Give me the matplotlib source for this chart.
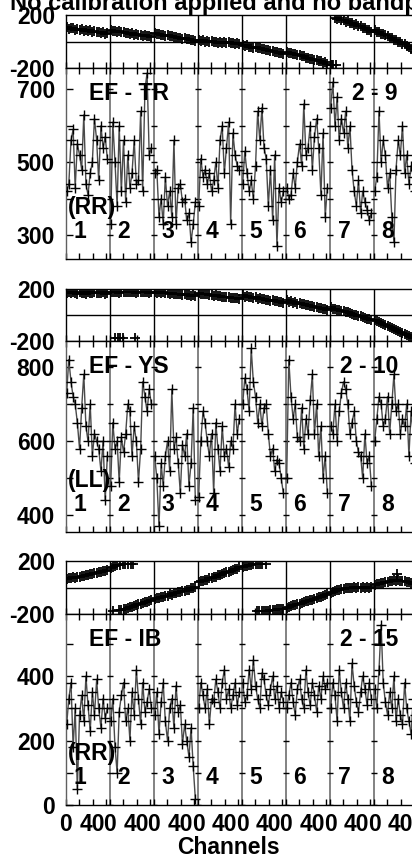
import numpy as np
import matplotlib
matplotlib.use("Agg")
import matplotlib.pyplot as plt

plt.rcParams['font.family'] = ['Liberation Sans', 'DejaVu Sans']
plt.rcParams['font.weight'] = 'bold'

TITLE = "No calibration applied and no bandpass applied"
N_SB = 8
SB_WIDTH = 66
chan = [1, 4.2, 7.5, 10.7, 13.8, 17, 20.3, 23.5, 26.7, 29.9,
        33, 36.3, 39.5, 42.7, 46, 49, 52.4, 55.6, 58.8, 62]

baselines = ["EF - TR", "EF - YS", "EF - IB"]
bl_numbers = ["2 - 9", "2 - 10", "2 - 15"]
pols = ["(RR)", "(LL)", "(RR)"]
sb_labels = ["1", "2", "3", "4", "5", "6", "7", "8"]
x_tick_labels = ["0", "", "40", ""]

# ---------------- phases (deg), 20 per subband ----------------
phase1 = [
    [110, 96, 104, 100, 90, 98, 88, 92, 82, 86, 78, 84, 72, 80, 68, 74, 64, 70, 58, 62],
    [86, 78, 82, 72, 78, 68, 72, 62, 66, 58, 62, 52, 56, 48, 50, 42, 46, 38, 40, 32],
    [62, 54, 58, 48, 52, 44, 46, 38, 40, 32, 36, 26, 30, 22, 24, 16, 18, 10, 14, 6],
    [10, 2, 8, 0, 6, -2, 4, -4, 0, -8, -2, -10, -4, -12, -6, -14, -10, -18, -12, -20],
    [-26, -34, -30, -40, -38, -46, -44, -52, -52, -60, -58, -66, -66, -72, -72, -80, -78, -86, -86, -92],
    [-76, -86, -84, -94, -92, -104, -102, -112, -112, -122, -122, -132, -130, -140, -140, -150, -150, -160, -158, -168],
    [-174, -179, 178, 170, 174, 160, 164, 150, 152, 138, 142, 126, 130, 114, 118, 102, 104, 88, 90, 74],
    [84, 74, 72, 60, 58, 46, 44, 30, 28, 14, 12, -2, -4, -18, -22, -36, -40, -56, -60, -76],
]
phase1_extra_x = [6 * SB_WIDTH + 3, 6 * SB_WIDTH + 9]
phase1_extra_y = [-178, -176]

phase2 = [
    [168, 174, 166, 176, 170, 164, 174, 168, 172, 162, 176, 168, 170, 174, 166, 172, 168, 176, 164, 170],
    [174, 180, 176, 178, 172, 180, 176, 179, 174, 178, 176, 180, 172, 178, 176, 179, 174, 177, 172, 176],
    [180, 172, 176, 170, 174, 166, 170, 164, 166, 160, 164, 158, 160, 154, 158, 152, 154, 148, 152, 146],
    [168, 160, 164, 158, 160, 152, 156, 148, 150, 144, 148, 140, 142, 136, 140, 132, 134, 128, 130, 124],
    [150, 142, 146, 138, 140, 132, 136, 126, 130, 122, 124, 116, 118, 110, 114, 106, 108, 100, 102, 96],
    [112, 102, 106, 96, 98, 88, 92, 82, 84, 74, 78, 68, 70, 62, 62, 54, 56, 46, 48, 40],
    [58, 50, 50, 42, 40, 32, 30, 22, 20, 12, 10, 2, 0, -8, -10, -18, -20, -28, -30, -38],
    [-38, -46, -52, -60, -66, -76, -82, -90, -98, -106, -112, -122, -128, -138, -144, -152, -160, -168, -174, -179],
]
phase2_extra_x = [SB_WIDTH + 8, SB_WIDTH + 12, SB_WIDTH + 15, SB_WIDTH + 19, SB_WIDTH + 38]
phase2_extra_y = [-180, -178, -180, -179, -180]

phase3 = [
    [62, 70, 68, 76, 74, 82, 80, 88, 88, 96, 94, 102, 102, 110, 108, 116, 116, 122, 122, 130],
    [150, 158, 164, 170, -172, -168, -166, -160, -156, -150, -146, -140, -134, -128, -124, -118, -112, -106, -100, -94],
    [-88, -80, -80, -70, -72, -62, -62, -52, -54, -44, -44, -34, -36, -26, -26, -16, -16, -6, -6, 4],
    [38, 48, 48, 58, 60, 70, 70, 82, 82, 92, 94, 104, 106, 116, 118, 128, 130, 140, 142, 152],
    [154, 160, 164, 168, 170, 174, 176, 178, 179, 180, -176, -174, -174, -170, -170, -168, -166, -166, -164, -162],
    [-152, -144, -142, -134, -132, -124, -122, -114, -112, -104, -102, -94, -92, -84, -82, -74, -70, -62, -60, -50],
    [-38, -32, -28, -22, -18, -12, -10, -6, -4, 0, -2, 2, 0, 4, -2, 2, 0, 4, 0, 2],
    [22, 28, 26, 34, 34, 42, 42, 50, 48, 54, 52, 56, 50, 52, 46, 44, 38, 34, 28, 24],
]
phase3_extra_x = [SB_WIDTH + 15, SB_WIDTH + 19, SB_WIDTH + 23, SB_WIDTH + 27, SB_WIDTH + 31,
                  SB_WIDTH + 35, SB_WIDTH + 5,
                  4 * SB_WIDTH + 22, 4 * SB_WIDTH + 26, 4 * SB_WIDTH + 30, 4 * SB_WIDTH + 36,
                  7 * SB_WIDTH + 34]
phase3_extra_y = [172, 176, 174, 178, 179, 178, -174, -176, -174, -176, 178, 100]

# ---------------- amplitudes, 20 per subband ----------------
amp1 = [
    [420, 440, 560, 590, 430, 550, 520, 480, 630, 440, 410, 470, 500, 620, 560, 450, 600, 540, 570, 510],
    [330, 610, 500, 380, 600, 420, 560, 390, 520, 430, 470, 560, 440, 450, 640, 420, 700, 745, 520, 540],
    [470, 480, 350, 400, 330, 460, 380, 420, 350, 560, 330, 430, 440, 390, 400, 340, 360, 280, 330, 390],
    [380, 510, 460, 480, 440, 470, 420, 450, 500, 430, 560, 600, 470, 540, 610, 330, 580, 520, 490, 480],
    [440, 530, 470, 420, 450, 400, 490, 640, 560, 650, 540, 510, 380, 480, 340, 520, 270, 430, 390, 420],
    [430, 400, 410, 470, 430, 500, 550, 490, 660, 520, 540, 600, 480, 570, 620, 540, 410, 580, 350, 430],
    [650, 720, 600, 680, 560, 620, 580, 640, 540, 600, 480, 420, 380, 450, 360, 420, 390, 370, 340, 360],
    [420, 460, 640, 500, 560, 520, 430, 470, 350, 280, 480, 560, 520, 600, 470, 520, 440, 490, 460, 420],
]
amp2 = [
    [730, 820, 760, 720, 700, 650, 580, 690, 780, 640, 600, 700, 560, 620, 600, 580, 520, 600, 440, 560],
    [480, 650, 580, 600, 490, 610, 570, 620, 700, 680, 560, 640, 600, 490, 580, 760, 720, 680, 740, 700],
    [560, 500, 370, 540, 480, 560, 600, 520, 740, 580, 610, 540, 460, 590, 560, 620, 480, 540, 690, 440],
    [450, 600, 680, 650, 600, 560, 620, 460, 650, 580, 520, 640, 560, 580, 530, 600, 580, 700, 620, 660],
    [700, 770, 740, 680, 850, 760, 720, 650, 700, 640, 690, 700, 620, 560, 580, 520, 550, 540, 500, 460],
    [500, 820, 720, 660, 700, 610, 600, 690, 580, 660, 620, 710, 780, 620, 700, 560, 640, 500, 560, 460],
    [640, 620, 700, 600, 680, 730, 760, 740, 700, 620, 650, 680, 600, 570, 560, 500, 620, 540, 560, 480],
    [600, 660, 720, 700, 640, 660, 720, 620, 700, 780, 680, 700, 620, 660, 640, 700, 560, 680, 620, 540],
]
amp3 = [
    [250, 330, 380, 180, 300, 50, 280, 340, 260, 400, 310, 230, 350, 280, 390, 300, 240, 330, 270, 300],
    [260, 330, 180, 100, 290, 340, 380, 260, 300, 200, 350, 280, 420, 330, 250, 380, 290, 320, 360, 300],
    [280, 350, 220, 320, 380, 260, 200, 300, 330, 240, 370, 290, 310, 190, 250, 200, 150, 240, 120, 20],
    [300, 380, 340, 300, 360, 250, 330, 320, 390, 350, 300, 380, 420, 330, 360, 300, 340, 380, 310, 350],
    [380, 320, 340, 420, 360, 450, 370, 330, 300, 410, 390, 340, 310, 360, 400, 330, 370, 300, 350, 320],
    [300, 340, 380, 320, 280, 360, 390, 330, 300, 420, 350, 310, 380, 340, 290, 370, 330, 400, 360, 380],
    [300, 380, 340, 260, 420, 350, 300, 380, 330, 260, 440, 370, 320, 290, 350, 400, 360, 310, 380, 330],
    [360, 300, 420, 560, 380, 320, 280, 350, 300, 400, 260, 330, 280, 250, 380, 300, 260, 220, 330, 280],
]

amp_ylims = [(234, 759), (355, 870), (0, 593)]
amp_ticks = [[300, 400, 500, 600, 700], [400, 500, 600, 700, 800], [0, 100, 200, 300, 400, 500]]
amp_labels = [["300", "", "500", "", "700"], ["400", "", "600", "", "800"], ["0", "", "200", "", "400", ""]]

phases = [phase1, phase2, phase3]
ph_extra_x = [phase1_extra_x, phase2_extra_x, phase3_extra_x]
ph_extra_y = [phase1_extra_y, phase2_extra_y, phase3_extra_y]
amps = [amp1, amp2, amp3]

# ---------------- layout (pixels) ----------------
W, H = 412, 860
fig = plt.figure(figsize=(W / 100, H / 100), dpi=100)
LEFT, RIGHT = 66, 418
groups_px = [(15, 68, 259), (289, 341, 532), (561, 614, 805)]
FS = 16.5


def make_ax(top, bottom):
    return fig.add_axes([LEFT / W, 1 - bottom / H, (RIGHT - LEFT) / W, (bottom - top) / H])


xmax = N_SB * SB_WIDTH
tick_pos = []
tick_lab = []
for s in range(N_SB):
    for k, t in enumerate([0, 20, 40, 60]):
        tick_pos.append(s * SB_WIDTH + t)
        tick_lab.append(x_tick_labels[k])
bounds = [s * SB_WIDTH for s in range(1, N_SB)]

for g in range(3):
    ptop, mid, abot = groups_px[g]
    # phase panel
    axp = make_ax(ptop, mid)
    axp.set_xlim(0, xmax)
    axp.set_ylim(-200, 200)
    for b in bounds:
        axp.axvline(b, color='black', lw=1.0, zorder=1)
    axp.axhline(0, color='black', lw=1.0, zorder=1)
    for s in range(N_SB):
        xs = [s * SB_WIDTH + c for c in chan]
        axp.plot(xs, phases[g][s], ls='none', marker='+', ms=7, mew=1.3, color='black', zorder=3)
    axp.plot(ph_extra_x[g], ph_extra_y[g], ls='none', marker='+', ms=7, mew=1.3, color='black', zorder=3)
    axp.set_yticks([-200, 200])
    axp.set_yticklabels(["-200", "200"], fontsize=FS, fontweight='bold')
    axp.tick_params(axis='y', length=0, pad=8)
    axp.set_xticks(tick_pos)
    axp.set_xticklabels([])
    axp.tick_params(axis='x', direction='in', length=4, width=1, bottom=True, top=False)
    for sp in axp.spines.values():
        sp.set_linewidth(1.0)

    # amplitude panel
    axa = make_ax(mid, abot)
    axa.set_xlim(0, xmax)
    axa.set_ylim(*amp_ylims[g])
    for b in bounds:
        axa.axvline(b, color='#606060', lw=1.1, zorder=1)
        axa.hlines(amp_ticks[g], b - 5, b + 5, color='black', lw=1.0, zorder=2)
    for s in range(N_SB):
        xs = [s * SB_WIDTH + c for c in chan]
        axa.plot(xs, amps[g][s], ls='-', lw=1.0, color='#4a4a4a', zorder=2)
        axa.plot(xs, amps[g][s], ls='none', marker='+', ms=6.5, mew=1.0, color='black', zorder=3)
    axa.set_yticks(amp_ticks[g])
    axa.set_yticklabels(amp_labels[g], fontsize=FS, fontweight='bold')
    axa.tick_params(axis='y', direction='in', length=5, width=1, pad=8)
    axa.set_xticks(tick_pos)
    axa.tick_params(axis='x', direction='in', length=4, width=1, bottom=True, top=True)
    if g == 2:
        axa.set_xticklabels(tick_lab, fontsize=FS, fontweight='bold')
        axa.tick_params(axis='x', pad=6)
    else:
        axa.set_xticklabels([])
    axa.spines['left'].set_color('#606060')
    for sp in axa.spines.values():
        sp.set_linewidth(1.0)

    # annotations
    fig.text(89 / W, 1 - (mid + 25.5) / H, baselines[g], ha='left', va='center',
             fontsize=FS, fontweight='bold')
    fig.text(398 / W, 1 - (mid + 25.5) / H, bl_numbers[g], ha='right', va='center',
             fontsize=FS, fontweight='bold')
    fig.text(68 / W, 1 - (abot - 51.5) / H, pols[g], ha='left', va='center',
             fontsize=FS, fontweight='bold')
    for s in range(N_SB):
        fig.text((LEFT + 44 * s + 14) / W, 1 - (abot - 27.5) / H, sb_labels[s],
                 ha='center', va='center', fontsize=FS, fontweight='bold')

fig.text(228 / W, 1 - 847 / H, "Channels", ha='center', va='center', fontsize=FS, fontweight='bold')
fig.text(10 / W, 1 - 10 / H, TITLE, ha='left', va='baseline', fontsize=17, fontweight='bold')

fig.savefig("out.png", dpi=100)
